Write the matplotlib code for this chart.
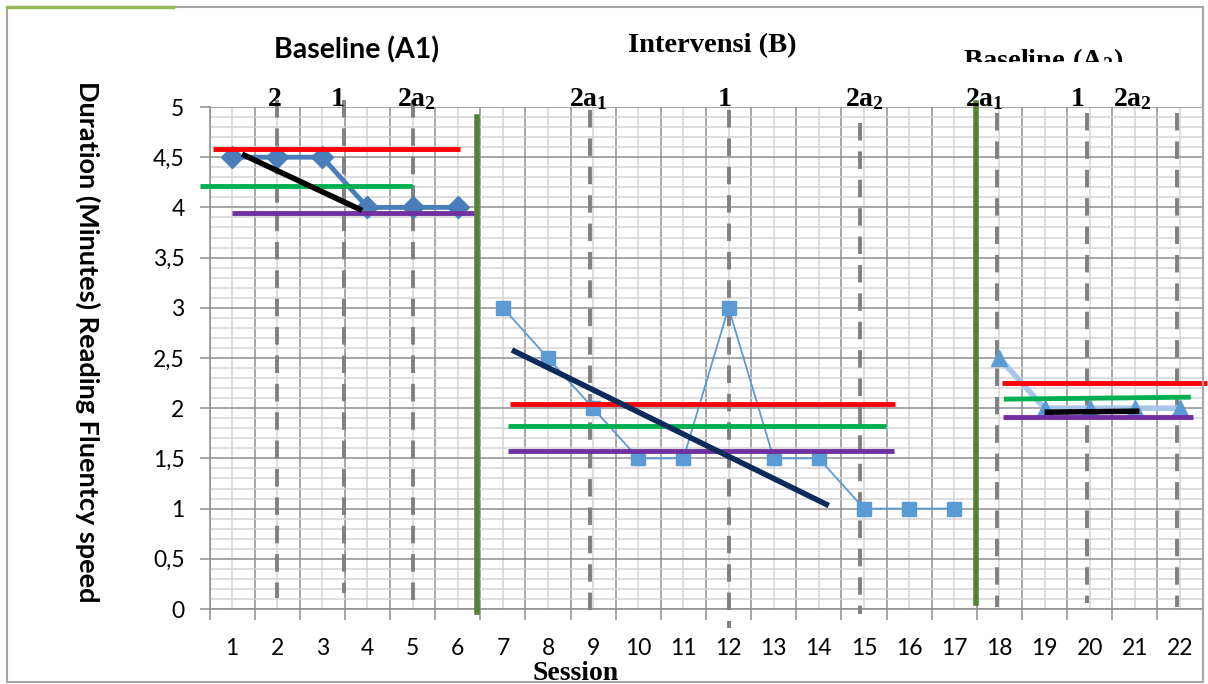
import matplotlib
matplotlib.use("Agg")
import matplotlib.pyplot as plt
from matplotlib.ticker import MultipleLocator, FixedLocator, FixedFormatter, FuncFormatter
from matplotlib.lines import Line2D
from matplotlib.patches import Rectangle
from matplotlib.transforms import Bbox, TransformedBbox

plt.rcParams['mathtext.fontset'] = 'custom'
plt.rcParams['mathtext.rm'] = 'Liberation Serif:bold'
plt.rcParams['mathtext.bf'] = 'Liberation Serif:bold'
plt.rcParams['mathtext.it'] = 'Liberation Serif:bold'

# --- data -------------------------------------------------------------
sessions = list(range(1, 23))
a1_sessions = [1, 2, 3, 4, 5, 6]
a1_duration = [4.5, 4.5, 4.5, 4, 4, 4]
b_sessions = [7, 8, 9, 10, 11, 12, 13, 14, 15, 16, 17]
b_duration = [3, 2.5, 2, 1.5, 1.5, 3, 1.5, 1.5, 1, 1, 1]
a2_sessions = [18, 19, 20, 21, 22]
a2_duration = [2.5, 2, 2, 2, 2]

# hand drawn analysis lines: (x0, x1, y0, y1)
red_lines = [(0.58, 6.05, 4.58, 4.58), (7.16, 15.69, 2.04, 2.04), (18.06, 22.6, 2.25, 2.25)]
green_lines = [(0.29, 4.99, 4.21, 4.21), (7.11, 15.49, 1.82, 1.82), (18.1, 22.24, 2.09, 2.11)]
purple_lines = [(1.0, 6.36, 3.94, 3.94), (7.11, 15.67, 1.57, 1.57), (18.08, 22.29, 1.91, 1.91)]
trend_lines = [(1.22, 3.88, 4.53, 3.97, '#000000'), (7.2, 14.22, 2.58, 1.03, '#0D2A5C'),
               (19.0, 21.1, 1.96, 1.97, '#000000')]
phase_lines = [(6.43, 4.9, -0.03), (17.48, 5.04, 0.06)]
dash_lines = [(2.0, 5.07, 0.11), (3.48, 5.07, 0.16), (5.0, 5.07, 0.09),
              (8.93, 4.97, -0.04), (12.01, 4.97, -0.19), (14.91, 4.84, -0.05),
              (17.94, 4.94, 0.02), (19.94, 4.94, 0.06), (21.93, 4.94, 0.02)]
# labels above the dashed lines: (pixel x, text)
dash_labels = [(275, '2'), (338, '1'), (416, r'$\mathrm{2a}_{2}$'),
               (588, r'$\mathrm{2a}_{1}$'), (725, '1'), (864, r'$\mathrm{2a}_{2}$'),
               (984, r'$\mathrm{2a}_{1}$'), (1078, '1'), (1132, r'$\mathrm{2a}_{2}$')]

W, H = 1208, 684
fig = plt.figure(figsize=(W / 100, H / 100), dpi=100)


def px(x, y):
    return x / W, 1 - y / H


ax = fig.add_axes([209.5 / W, 75 / H, 993 / W, 502 / H])
ax.set_xlim(0.5, 22.5)
ax.set_ylim(0, 5)

# grid like Excel
ax.yaxis.set_major_locator(MultipleLocator(0.5))
ax.yaxis.set_minor_locator(MultipleLocator(0.1))
ax.xaxis.set_major_locator(FixedLocator([s - 0.5 for s in sessions] + [22.5]))
ax.xaxis.set_minor_locator(FixedLocator(sessions))
ax.xaxis.set_major_formatter(FixedFormatter([''] * 23))
ax.xaxis.set_minor_formatter(FixedFormatter([str(s) for s in sessions]))
ax.yaxis.set_major_formatter(FuncFormatter(lambda v, p: ('%g' % v).replace('.', ',')))
ax.grid(which='major', color='#8E8E8E', lw=1.1, zorder=0)
ax.grid(which='minor', color='#D4D4D4', lw=1.1, zorder=0)
ax.set_axisbelow(True)
ax.tick_params(axis='x', which='major', length=8, width=1.1, color='#8E8E8E', direction='out')
ax.tick_params(axis='x', which='minor', length=0, pad=21, labelsize=16.5)
ax.tick_params(axis='y', which='major', length=7, width=1.1, color='#8E8E8E', pad=11, labelsize=16.5)
ax.tick_params(axis='y', which='minor', length=0)
for lab in ax.get_xticklabels(minor=True) + ax.get_yticklabels():
    lab.set_fontfamily('Lato')
for s in ['top', 'right']:
    ax.spines[s].set_visible(False)
for s in ['left', 'bottom']:
    ax.spines[s].set_color('#8E8E8E')
    ax.spines[s].set_linewidth(1.1)

# dashed criterion lines
for x, y0, y1 in dash_lines:
    ax.plot([x, x], [y0, y1], color='#808080', lw=2.8, ls=(0, (4.5, 2.8)),
            zorder=3, clip_on=False)

# phase change lines
for x, y0, y1 in phase_lines:
    ax.plot([x, x], [y0, y1], color='#548235', lw=4, zorder=3, clip_on=False)

# data series
ax.plot(a1_sessions, a1_duration, color='#4A7EBB', lw=3.5, marker='D', ms=11, zorder=4)
ax.plot(b_sessions, b_duration, color='#5B9BD5', lw=1.3, marker='s', ms=10.5, zorder=4)
ax.plot(a2_sessions, a2_duration, color='#A9C5EA', lw=4, marker='^', ms=11.5,
        mfc='#5B9BD5', mec='#5B9BD5', zorder=4)

# analysis lines
for lines, col in [(red_lines, '#FF0000'), (green_lines, '#00B050'), (purple_lines, '#7030A0')]:
    for x0, x1, y0, y1 in lines:
        ax.plot([x0, x1], [y0, y1], color=col, lw=3.5, zorder=5, clip_on=False,
                solid_capstyle='butt')
for x0, x1, y0, y1, col in trend_lines:
    ax.plot([x0, x1], [y0, y1], color=col, lw=4, zorder=6, solid_capstyle='butt')

# labels
for x, t in dash_labels:
    fig.text(*px(x, 106), t, ha='center', va='baseline', fontsize=20,
             family='Liberation Serif', weight='bold')
fig.text(*px(357, 50), 'Baseline (A1)', ha='center', va='center', fontsize=20.5,
         family='Lato', weight='bold')
fig.text(*px(712, 46), 'Intervensi (B)', ha='center', va='center', fontsize=20.5,
         family='Liberation Serif', weight='bold')
t = fig.text(*px(1043, 68), r'$\mathrm{Baseline\ (A}_{2}\mathrm{)}$', ha='center',
             va='baseline', fontsize=20.5)
t.set_clip_on(True)
t.set_clip_box(TransformedBbox(Bbox.from_extents(0, 1 - 62 / H, 1, 1), fig.transFigure))
fig.text(*px(88, 342), 'Duration (Minutes) Reading Fluentcy speed', rotation=270,
         ha='center', va='center', fontsize=19.5, family='Lato', weight='bold')
fig.text(*px(576, 680), 'Session', ha='center', va='baseline', fontsize=20,
         family='Liberation Serif', weight='bold')

# chart border
fig.add_artist(Rectangle(px(7, 682), 1196 / W, 675 / H, transform=fig.transFigure,
                         fill=False, ec='#A6A6A6', lw=1.5))
fig.add_artist(Line2D([7 / W, 173 / W], [1 - 7 / H, 1 - 7 / H], transform=fig.transFigure,
                      color='#9BBB59', lw=2.5))

fig.savefig('out.png', dpi=100)
